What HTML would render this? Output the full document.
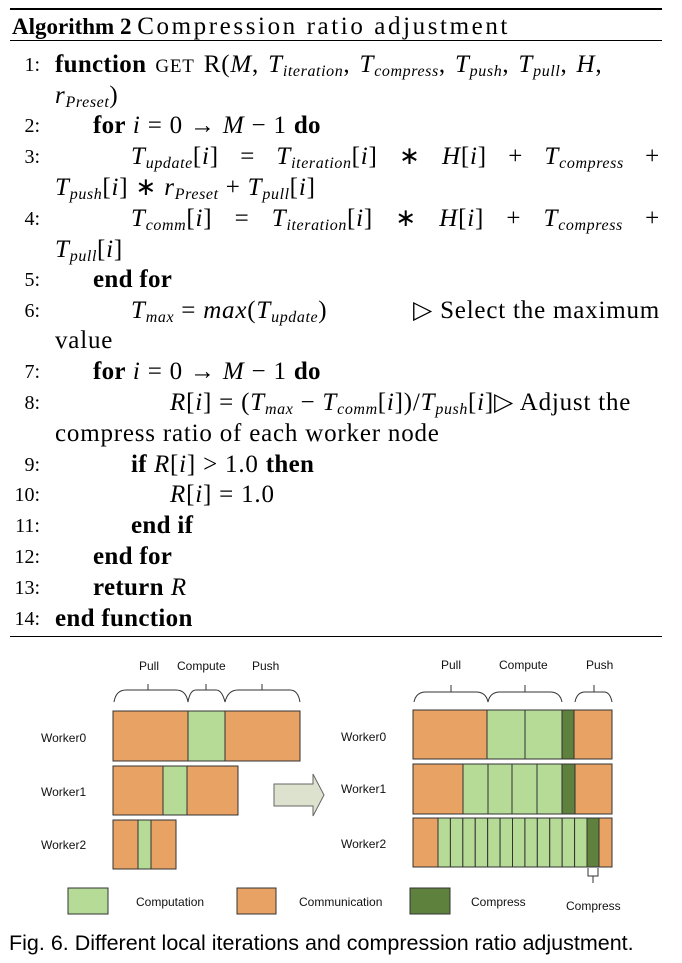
<!DOCTYPE html>
<html><head><meta charset="utf-8"><style>
body{margin:0;background:#fff;width:682px;height:963px;position:relative;overflow:hidden;font-family:"Liberation Serif",serif;color:#000}
.l{position:absolute;font-size:25px;line-height:28px;white-space:nowrap;letter-spacing:0.8px}
.n{position:absolute;width:40px;text-align:right;font-size:20px;line-height:28px}
i{font-style:italic}
b{letter-spacing:0.3px}
sub{font-size:16px;font-style:italic;vertical-align:-4px;line-height:0;letter-spacing:0.6px}
.j{text-align:justify;text-align-last:justify}
.rule{position:absolute;left:10px;width:652px;background:#000}
</style></head><body>
<div class="rule" style="top:8px;height:2px"></div>
<div class="l" style="left:12px;top:13px;font-size:23px;letter-spacing:0"><b style="font-size:23px;letter-spacing:0">Algorithm 2</b> <span style="font-size:25px;letter-spacing:2.6px">Compression ratio adjustment</span></div>
<div class="rule" style="top:40px;height:1px"></div>

<div>
<div class="n" style="top:51px">1:</div><div class="l" style="left:55px;top:51px;word-spacing:2px"><b>function</b> <span style="font-size:19px">GET</span> R(<i>M</i>, <i>T</i><sub>iteration</sub>, <i>T</i><sub>compress</sub>, <i>T</i><sub>push</sub>, <i>T</i><sub>pull</sub>, <i>H</i>,</div>
<div class="l" style="left:55px;top:82px"><i>r</i><sub>Preset</sub>)</div>
<div class="n" style="top:112px">2:</div><div class="l" style="left:93px;top:112px"><b>for</b> <i>i</i> = 0 → <i>M</i> − 1 <b>do</b></div>
<div class="n" style="top:143px">3:</div><div class="l j" style="left:131px;top:143px;width:529px"><i>T</i><sub>update</sub>[<i>i</i>] = <i>T</i><sub>iteration</sub>[<i>i</i>] ∗ <i>H</i>[<i>i</i>] + <i>T</i><sub>compress</sub> +</div>
<div class="l" style="left:55px;top:174px"><i>T</i><sub>push</sub>[<i>i</i>] ∗ <i>r</i><sub>Preset</sub> + <i>T</i><sub>pull</sub>[<i>i</i>]</div>
<div class="n" style="top:205px">4:</div><div class="l j" style="left:131px;top:205px;width:529px"><i>T</i><sub>comm</sub>[<i>i</i>] = <i>T</i><sub>iteration</sub>[<i>i</i>] ∗ <i>H</i>[<i>i</i>] + <i>T</i><sub>compress</sub> +</div>
<div class="l" style="left:55px;top:236px"><i>T</i><sub>pull</sub>[<i>i</i>]</div>
<div class="n" style="top:266px">5:</div><div class="l" style="left:93px;top:266px"><b>end for</b></div>
<div class="n" style="top:297px">6:</div><div class="l" style="left:131px;top:297px"><i>T</i><sub>max</sub> = <i>max</i>(<i>T</i><sub>update</sub>)</div><div class="l" style="right:22px;top:297px">▷ Select the maximum</div>
<div class="l" style="left:55px;top:327px">value</div>
<div class="n" style="top:358px">7:</div><div class="l" style="left:93px;top:358px"><b>for</b> <i>i</i> = 0 → <i>M</i> − 1 <b>do</b></div>
<div class="n" style="top:389px">8:</div><div class="l" style="left:170px;top:389px"><i>R</i>[<i>i</i>] = (<i>T</i><sub>max</sub> − <i>T</i><sub>comm</sub>[<i>i</i>])/<i>T</i><sub>push</sub>[<i>i</i>]▷ Adjust the</div>
<div class="l" style="left:55px;top:420px">compress ratio of each worker node</div>
<div class="n" style="top:451px">9:</div><div class="l" style="left:131px;top:451px"><b>if</b> <i>R</i>[<i>i</i>] &gt; 1.0 <b>then</b></div>
<div class="n" style="top:481px">10:</div><div class="l" style="left:170px;top:481px"><i>R</i>[<i>i</i>] = 1.0</div>
<div class="n" style="top:512px">11:</div><div class="l" style="left:131px;top:512px"><b>end if</b></div>
<div class="n" style="top:543px">12:</div><div class="l" style="left:93px;top:543px"><b>end for</b></div>
<div class="n" style="top:574px">13:</div><div class="l" style="left:93px;top:574px"><b>return</b> <i>R</i></div>
<div class="n" style="top:605px">14:</div><div class="l" style="left:55px;top:605px"><b>end function</b></div>
</div>
<div class="rule" style="top:636px;height:1px"></div>

<svg width="682" height="963" style="position:absolute;left:0;top:0" font-family="Liberation Sans, sans-serif" font-size="12">
<g stroke="#333" stroke-width="1">
<g>
<rect x="113" y="711" width="75" height="50" fill="#e8a264"/><rect x="188" y="711" width="37" height="50" fill="#b5db96"/><rect x="225" y="711" width="75" height="50" fill="#e8a264"/></g>
<g>
<rect x="113" y="766" width="50" height="49" fill="#e8a264"/><rect x="163" y="766" width="24" height="49" fill="#b5db96"/><rect x="187" y="766" width="51" height="49" fill="#e8a264"/></g>
<g>
<rect x="113" y="820" width="25" height="49" fill="#e8a264"/><rect x="138" y="820" width="13" height="49" fill="#b5db96"/><rect x="151" y="820" width="25" height="49" fill="#e8a264"/></g>
<polygon points="274,784 313,784 313,774 324,795 313,816 313,806 274,806" fill="#dde2cf" stroke="#666"/>
<g>
<rect x="413" y="710" width="74" height="49" fill="#e8a264"/><rect x="487" y="710" width="38" height="49" fill="#b5db96"/><rect x="525" y="710" width="37" height="49" fill="#b5db96"/><rect x="562" y="710" width="12" height="49" fill="#5e813d"/><rect x="574" y="710" width="38" height="49" fill="#e8a264"/></g>
<g>
<rect x="413" y="764" width="50" height="50" fill="#e8a264"/><rect x="463" y="764" width="25" height="50" fill="#b5db96"/><rect x="488" y="764" width="24" height="50" fill="#b5db96"/><rect x="512" y="764" width="25" height="50" fill="#b5db96"/><rect x="537" y="764" width="25" height="50" fill="#b5db96"/><rect x="562" y="764" width="13" height="50" fill="#5e813d"/><rect x="575" y="764" width="37" height="50" fill="#e8a264"/></g>
<g id="w2">
<rect x="413" y="818" width="25" height="49" fill="#e8a264"/>
</g>
<g>
<rect x="68" y="888" width="40" height="26" fill="#b5db96"/><rect x="237" y="888" width="39" height="26" fill="#e8a264"/><rect x="410" y="888" width="40" height="26" fill="#5e813d"/></g>
</g>
<g fill="none" stroke="#333">
<path d="M114,702 Q116,690 126,690 L148,690 L148,684 M148,690 L176,690 Q186,690 188,702 Q190,690 196,690 L206,690 L206,684 M206,690 L216,690 Q222,690 225,702 Q228,690 238,690 L262,690 L262,684 M262,690 L290,690 Q298,690 300,702"/>
<path d="M414,702 Q416,692 426,692 L451,692 L451,685 M451,692 L476,692 Q486,692 488,702 Q490,692 500,692 L525,692 L525,685 M525,692 L550,692 Q560,692 562,702"/>
<path d="M575,702 Q577,692 585,692 L594,692 L594,685 M594,692 L604,692 Q610,692 612,702"/>
<path d="M588,868 L588,876 L598,876 L598,868 M593,876 L593,883"/>
</g>
<g fill="#111">
<text x="139" y="670">Pull</text><text x="177" y="670">Compute</text><text x="252" y="670">Push</text>
<text x="441" y="669">Pull</text><text x="499" y="669">Compute</text><text x="586" y="669">Push</text>
<text x="41" y="742">Worker0</text><text x="41" y="796">Worker1</text><text x="41" y="849">Worker2</text>
<text x="341" y="741">Worker0</text><text x="341" y="793">Worker1</text><text x="341" y="848">Worker2</text>
<text x="136" y="906">Computation</text><text x="299" y="906">Communication</text><text x="471" y="906">Compress</text>
<text x="566" y="910">Compress</text>
</g>
</svg>
<div class="l" style="left:9px;top:929px;font-family:'Liberation Sans',sans-serif;font-size:21.5px;letter-spacing:0">Fig. 6. Different local iterations and compression ratio adjustment.</div>
<script>
const w2 = document.getElementById('w2');
const ns='http://www.w3.org/2000/svg';
for(let k=0;k<12;k++){
  const r=document.createElementNS(ns,'rect');
  
  
  const x0=438+k*149/12;
  r.setAttribute('x',x0);r.setAttribute('y',818);r.setAttribute('width',149/12);r.setAttribute('height',49);r.setAttribute('fill','#b5db96');
  w2.appendChild(r);
}
[[587,12,'#5e813d'],[599,13,'#e8a264']].forEach(([x,w,c])=>{
  const r=document.createElementNS(ns,'rect');
  
  
  r.setAttribute('x',x);r.setAttribute('y',818);r.setAttribute('width',w);r.setAttribute('height',49);r.setAttribute('fill',c);
  w2.appendChild(r);
});
</script>
</body></html>
